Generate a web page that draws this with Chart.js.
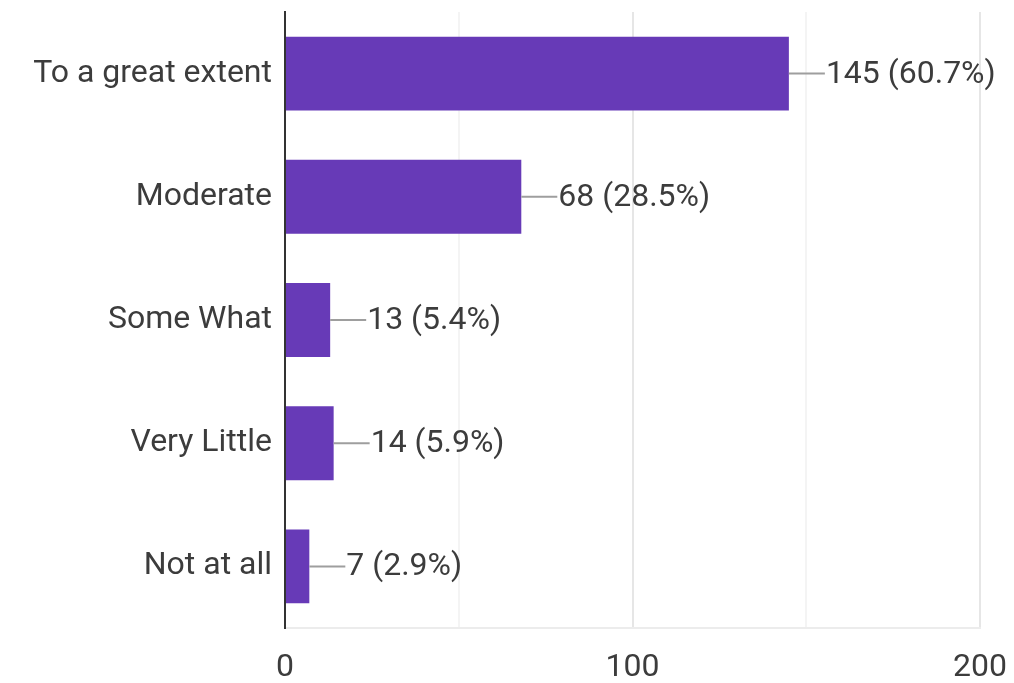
<!DOCTYPE html>
<html>
<head>
<meta charset="utf-8">
<script src="https://cdn.jsdelivr.net/npm/chart.js@4/dist/chart.umd.min.js"></script>
<style>
  html, body { margin: 0; padding: 0; background: #fff; }
  #wrap { width: 1014px; height: 683px; }
</style>
</head>
<body>
<div id="wrap"><canvas id="chart"></canvas></div>
<script>
const categories = ['To a great extent', 'Moderate', 'Some What', 'Very Little', 'Not at all'];
const counts = [145, 68, 13, 14, 7];
const percents = ['60.7%', '28.5%', '5.4%', '5.9%', '2.9%'];
const xTicks = [0, 100, 200];

// valeur + petit trait à droite de chaque barre
const leaderLabels = {
    id: 'leaderLabels',
    afterDatasetsDraw(chart) {
        const ctx = chart.ctx;
        const meta = chart.getDatasetMeta(0);
        ctx.save();
        ctx.font = '32px Roboto';
        ctx.textBaseline = 'middle';
        meta.data.forEach((bar, i) => {
            ctx.strokeStyle = '#9e9e9e';
            ctx.lineWidth = 2;
            ctx.beginPath();
            ctx.moveTo(bar.x, bar.y);
            ctx.lineTo(bar.x + 36, bar.y);
            ctx.stroke();
            ctx.fillStyle = '#3c3c3c';
            ctx.fillText(counts[i] + ' (' + percents[i] + ')', bar.x + 37, bar.y + 1);
        });
        ctx.restore();
    }
};

new Chart(document.getElementById('chart'), {
    type: 'bar',
    data: {
        labels: categories,
        datasets: [{
            data: counts,
            backgroundColor: '#673ab7',
            barPercentage: 0.6,
            categoryPercentage: 1
        }]
    },
    options: {
        indexAxis: 'y',
        responsive: true,
        maintainAspectRatio: false,
        animation: false,
        layout: { padding: { top: 12, right: 34, left: 0, bottom: 0 } },
        plugins: {
            legend: { display: false },
            tooltip: { enabled: false }
        },
        scales: {
            x: {
                min: 0,
                max: 200,
                ticks: {
                    stepSize: 50,
                    padding: 21,
                    maxRotation: 0,
                    color: '#3c3c3c',
                    font: { family: 'Roboto', size: 32 },
                    callback: v => xTicks.includes(v) ? v : ''
                },
                grid: {
                    drawTicks: false,
                    lineWidth: 2,
                    color: c => c.index === 0 ? 'rgba(0,0,0,0)' :
                        (c.tick && c.tick.value % 100 === 0 ? '#e6e6e6' : '#f4f4f4')
                },
                border: { color: '#ececec', width: 2 },
                afterFit: s => { s.height = 55; s.paddingLeft = 0; s.paddingRight = 0; }
            },
            y: {
                ticks: {
                    padding: 13,
                    color: '#3c3c3c',
                    font: { family: 'Roboto', size: 32 }
                },
                grid: { display: false, drawTicks: false },
                border: { color: '#333', width: 2 },
                afterFit: s => { s.width = 285; s.paddingTop = 0; s.paddingBottom = 0; }
            }
        }
    },
    plugins: [leaderLabels]
});
</script>
</body>
</html>
